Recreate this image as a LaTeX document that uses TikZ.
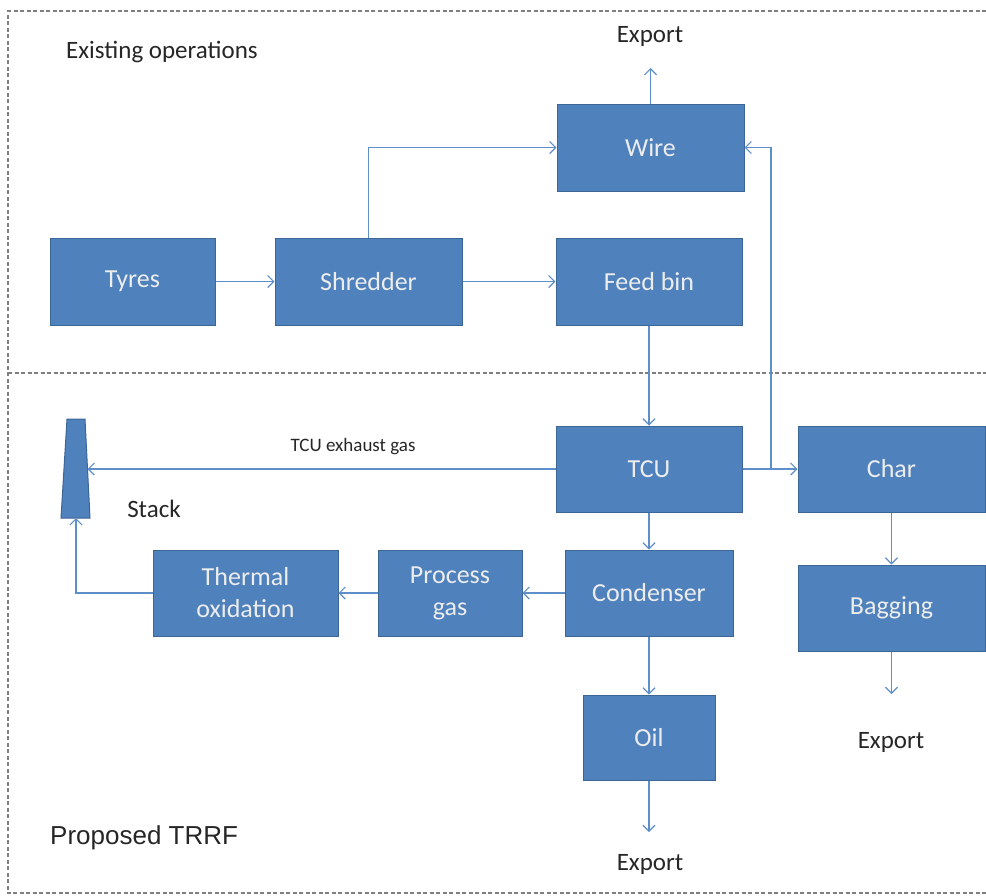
\documentclass[tikz,border=0pt]{standalone}
\usepackage{fontspec}
\setmainfont{Carlito}
\newfontfamily\arialfont{Liberation Sans}
\usetikzlibrary{arrows.meta}
\definecolor{boxfill}{HTML}{4F81BD}
\definecolor{boxline}{HTML}{3C6696}
\definecolor{arrowc}{HTML}{5F8FCB}
\definecolor{dashc}{HTML}{7F7F7F}
\definecolor{lbl}{HTML}{262626}
\tikzset{
  x=1pt, y=-1pt,
  box/.style={draw=boxline, fill=boxfill, line width=1pt, text=white!93!black,
    inner sep=0pt, font=\fontsize{26}{32}\selectfont, align=center},
  flow/.style={draw=arrowc, line width=1.2pt, -{Straight Barb[length=6pt,width=12pt,line width=1.2pt]}},
  lab/.style={text=lbl, inner sep=0pt, font=\fontsize{25}{30}\selectfont},
  region/.style={draw=dashc, line width=1.3pt, dash pattern=on 4pt off 2.5pt}
}
\begin{document}
\begin{tikzpicture}
\useasboundingbox (0,0) rectangle (986,895);
% region borders
\draw[region] (986,11) -- (8,11) -- (8,893) -- (986,893);
\draw[region] (8,373) -- (986,373);
% boxes
\node[box, minimum width=165pt, minimum height=87pt] (tyres) at (132.5,281.5) {Tyres};
\node[box, minimum width=187pt, minimum height=87pt] (shredder) at (368.5,281.5) {Shredder};
\node[box, minimum width=186pt, minimum height=87pt] (feed) at (649,281.5) {Feed bin};
\node[box, minimum width=187pt, minimum height=87pt] (wire) at (650.5,147.5) {Wire};
\node[box, minimum width=186pt, minimum height=86pt] (tcu) at (649,469) {TCU};
\node[box, minimum width=187pt, minimum height=86pt] (char) at (891.5,469) {Char};
\node[box, minimum width=168pt, minimum height=86pt] (cond) at (649,593) {Condenser};
\node[box, minimum width=144pt, minimum height=86pt] (proc) at (450,593) {Process\\gas};
\node[box, minimum width=185pt, minimum height=86pt] (therm) at (245.5,593) {Thermal\\oxidation};
\node[box, minimum width=187pt, minimum height=86pt] (bag) at (891.5,608) {Bagging};
\node[box, minimum width=132pt, minimum height=85pt] (oil) at (649,737.5) {Oil};
% stack
\draw[boxline, fill=boxfill, line width=1pt] (67,419) -- (85,419) -- (90,518) -- (61,518) -- cycle;
\coordinate (stackR) at (87.5,469);
\coordinate (stackB) at (76,518);
% labels
\node[lab, anchor=west] (exist) at (66,52) {Existing operations};
\node[lab] (exptop) at (650,36) {Export};
\node[lab] (stack) at (154,509) {Stack};
\node[lab, font=\fontsize{19}{22}\selectfont] (exh) at (353,447) {TCU exhaust gas};
\node[lab, anchor=west, font=\arialfont\fontsize{26}{30}\selectfont] (prop) at (50,838) {Proposed TRRF};
\node[lab] (expbag) at (891,742) {Export};
\node[lab] (expoil) at (650,864) {Export};
% connector ends
\coordinate (wireout) at (650.5,68);
\coordinate (bagout) at (891.5,694);
\coordinate (oilout) at (649,832);
\coordinate (junc) at (771,469);
% connectors
\draw[flow] (tyres) -- (shredder);
\draw[flow] (shredder) -- (feed);
\draw[flow] (shredder.north) |- (wire.west);
\draw[flow] (wire.north) -- (wireout);
\draw[flow] (feed.south) -- (tcu.north);
\draw[flow] (tcu.east) -- (char.west);
\draw[flow] (junc) |- (wire.east);
\draw[flow] (tcu.west) -- (stackR);
\draw[flow] (tcu.south) -- (cond.north);
\draw[flow] (cond.west) -- (proc.east);
\draw[flow] (proc.west) -- (therm.east);
\draw[flow] (therm.west) -| (stackB);
\draw[flow] (cond.south) -- (oil.north);
\draw[flow] (oil.south) -- (oilout);
\draw[flow] (char.south) -- (bag.north);
\draw[flow] (bag.south) -- (bagout);
\end{tikzpicture}
\end{document}
